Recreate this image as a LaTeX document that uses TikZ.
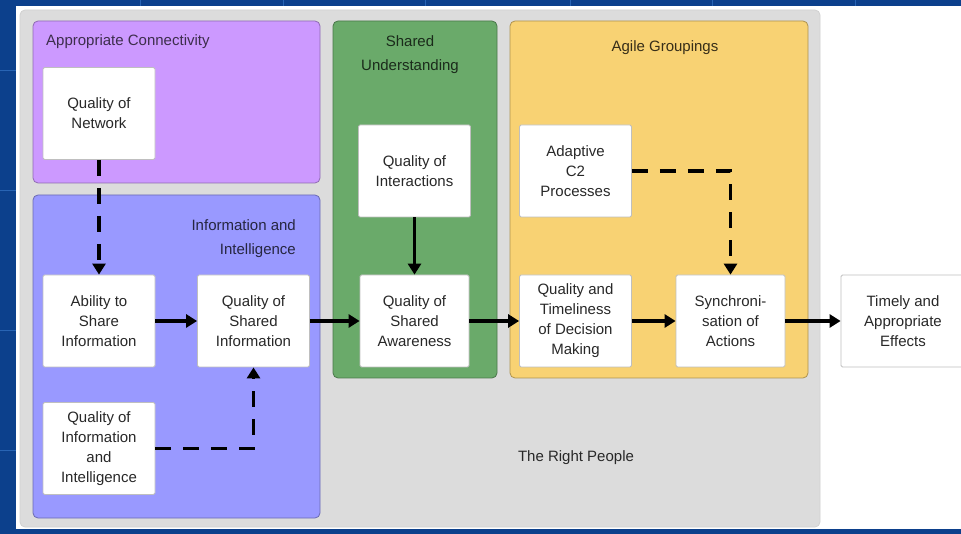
\documentclass[tikz,border=0pt]{standalone}
\usepackage{fontspec}
\setmainfont{Liberation Sans}
\usetikzlibrary{arrows.meta}
\definecolor{slideblue}{RGB}{12,64,140}
\definecolor{gridblue}{RGB}{40,100,180}
\definecolor{panelgray}{RGB}{220,220,220}
\definecolor{purplebox}{RGB}{204,153,255}
\definecolor{bluebox}{RGB}{153,153,255}
\definecolor{greenbox}{RGB}{106,170,106}
\definecolor{yellowbox}{RGB}{248,210,115}
\definecolor{txt}{RGB}{40,40,40}
\tikzset{
  panel/.style={rounded corners=5pt, line width=0.8pt},
  card/.style={draw=black!25, fill=white, line width=0.8pt, rounded corners=1.5pt,
    minimum width=112pt, minimum height=92pt, align=center, text=txt,
    font=\fontsize{15}{20}\selectfont, inner sep=0pt},
  hdr/.style={font=\fontsize{15}{24}\selectfont, inner sep=0pt},
  flow/.style={line width=3.6pt, -{Triangle[length=11pt,width=13pt]}},
  dflow/.style={line width=3.6pt, dash pattern=on 16pt off 12pt, -{Triangle[length=11pt,width=13pt]}}
}
\begin{document}
\begin{tikzpicture}[x=1pt,y=-1pt]
\useasboundingbox (0,0) rectangle (961,534);
% slide background
\fill[slideblue] (0,0) rectangle (961,534);
\foreach \gx in {140,283,425,570,712,855}{\draw[gridblue,line width=0.6pt] (\gx,0) -- (\gx,6);}
\foreach \gy in {70,190,330,450}{\draw[gridblue,line width=0.6pt] (0,\gy) -- (16,\gy);}
\fill[white] (16,6) rectangle (961,529);
% gray panel
\draw[panel, fill=panelgray, draw=black!18] (20,10) rectangle (820,527);
% group panels
\draw[panel, fill=purplebox, draw=purplebox!70!black] (33,21) rectangle (320,183);
\draw[panel, fill=bluebox, draw=bluebox!70!black] (33,195) rectangle (320,518);
\draw[panel, fill=greenbox, draw=greenbox!70!black] (333,21) rectangle (497,378);
\draw[panel, fill=yellowbox, draw=yellowbox!70!black] (510,21) rectangle (808,378);
% headers
\node[hdr, anchor=west, text=purplebox!30!black] (hconn) at (46,42) {Appropriate Connectivity};
\node[hdr, align=right, anchor=north east, text=bluebox!25!black] (hinfo) at (296,219) {Information and\\Intelligence};
\node[hdr, align=center, anchor=north, text=greenbox!25!black] (hshared) at (410,35) {Shared\\Understanding};
\node[hdr, anchor=center, text=yellowbox!22!black] (hagile) at (665,48) {Agile Groupings};
\node[hdr, anchor=center, text=txt] (hright) at (576,458) {The Right People};
% cards
\node[card] (net) at (99,113.5) {Quality of\\Network};
\node[card] (inter) at (414.5,171) {Quality of\\Interactions};
\node[card] (adapt) at (575.5,171) {Adaptive\\C2\\Processes};
\node[card] (share) at (99,321) {Ability to\\Share\\Information};
\node[card] (sinfo) at (253.5,321) {Quality of\\Shared\\Information};
\node[card, minimum width=109pt] (aware) at (414.5,321) {Quality of\\Shared\\Awareness};
\node[card] (timel) at (575.5,321) {Quality and\\Timeliness\\of Decision\\Making};
\node[card, minimum width=109pt] (sync) at (730.5,321) {Synchroni-\\sation of\\Actions};
\node[card, minimum width=124pt] (effect) at (903,321) {Timely and\\Appropriate\\Effects};
\node[card] (qii) at (99,448.5) {Quality of\\Information\\and\\Intelligence};
% connectors
\coordinate (c1) at (253.5,448.5);
\coordinate (c2) at (730.5,171);
\draw[dflow] (net) -- (share);
\draw[flow] (inter) -- (aware);
\draw[flow] (share) -- (sinfo);
\draw[flow] (sinfo) -- (aware);
\draw[flow] (aware) -- (timel);
\draw[flow] (timel) -- (sync);
\draw[flow] (sync) -- (effect);
\draw[dflow] (qii.east) -- (c1) -- (sinfo.south);
\draw[dflow] (adapt.east) -- (c2) -- (sync.north);
\end{tikzpicture}
\end{document}
